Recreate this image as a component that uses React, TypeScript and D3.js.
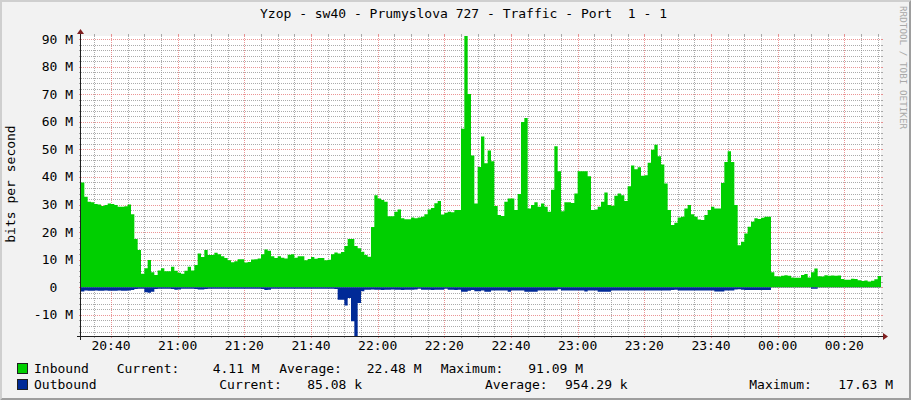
import React from 'react';
import * as d3 from 'd3';

// ---- data (1-minute samples, values in Mbit/s) ----
const inboundM = [
  38.0, 32.8, 31.0, 30.8, 30.2, 30.0, 29.5, 29.8, 30.4, 30.2,
  29.8, 29.2, 29.2, 29.4, 30.0, 26.5, 17.5, 13.5, 4.9, 6.9,
  9.9, 5.5, 4.5, 6.1, 6.9, 5.8, 5.8, 7.5, 6.0, 5.3,
  4.9, 6.0, 7.5, 6.1, 8.1, 12.3, 11.0, 13.5, 11.7, 11.7,
  12.5, 12.0, 11.3, 10.6, 9.8, 9.1, 9.5, 10.2, 10.2, 9.0,
  9.2, 10.1, 10.2, 10.5, 12.0, 13.7, 13.3, 11.3, 10.6, 11.3,
  10.7, 10.5, 11.8, 12.0, 10.7, 11.3, 11.3, 9.8, 10.3, 11.0,
  10.4, 10.6, 10.6, 9.8, 10.0, 12.0, 12.6, 12.3, 12.8, 15.0,
  17.5, 17.5, 15.0, 14.2, 12.9, 11.7, 11.1, 21.9, 33.4, 32.2,
  31.7, 31.0, 25.8, 25.8, 27.4, 28.2, 25.0, 24.7, 24.7, 25.3,
  25.0, 25.3, 25.6, 26.5, 28.2, 28.8, 30.5, 31.3, 26.4, 27.0,
  27.4, 27.2, 28.0, 28.0, 57.5, 91.09, 70.1, 47.8, 30.4, 43.6,
  54.7, 45.0, 49.6, 45.7, 29.5, 26.2, 25.9, 31.0, 32.2, 32.2,
  28.0, 33.8, 59.9, 61.4, 28.6, 29.8, 30.8, 29.2, 30.4, 29.2,
  27.4, 35.4, 51.1, 42.1, 27.6, 30.8, 30.8, 30.6, 34.0, 42.1,
  42.1, 42.1, 40.3, 28.0, 28.2, 29.2, 31.0, 34.4, 29.8, 29.6,
  33.2, 34.0, 33.4, 31.3, 36.6, 44.2, 42.8, 43.5, 40.4, 40.6,
  45.2, 49.9, 51.7, 47.5, 44.5, 37.6, 28.0, 22.6, 23.4, 25.3,
  25.6, 28.6, 29.8, 26.5, 25.6, 24.6, 24.4, 26.2, 28.0, 29.2,
  28.6, 28.6, 37.8, 45.4, 49.3, 45.4, 29.8, 15.3, 16.5, 19.5,
  22.0, 23.8, 25.0, 24.8, 25.2, 25.6, 25.6, 5.5, 4.0, 3.9,
  4.2, 4.4, 4.2, 3.6, 3.5, 3.5, 4.5, 4.8, 3.6, 5.5,
  6.8, 4.0, 3.9, 4.4, 4.2, 4.3, 4.2, 4.3, 3.0, 2.8,
  2.8, 3.1, 3.0, 2.6, 2.3, 2.5, 2.1, 2.4, 2.9, 4.11,
];

const outboundM = [
  1.5, 1.1, 1.2, 1.2, 1.1, 1.2, 1.2, 1.1, 1.2, 1.2,
  1.2, 1.1, 1.2, 1.2, 1.1, 1.0, 0.6, 0.5, 0.5, 1.8,
  2.0, 1.6, 0.6, 0.5, 0.5, 0.5, 0.5, 0.6, 0.9, 0.8,
  0.5, 0.5, 0.5, 0.5, 0.6, 0.8, 0.8, 0.6, 0.5, 0.5,
  0.5, 0.5, 0.5, 0.5, 0.5, 0.5, 0.5, 0.5, 0.5, 0.5,
  0.5, 0.5, 0.5, 0.5, 0.6, 1.0, 0.9, 0.5, 0.5, 0.5,
  0.5, 0.5, 0.5, 0.5, 0.5, 0.5, 0.5, 0.5, 0.5, 0.5,
  0.5, 0.5, 0.5, 0.5, 0.5, 0.5, 0.6, 4.5, 4.5, 6.6,
  3.9, 12.3, 17.63, 5.7, 1.4, 0.9, 0.9, 0.8, 0.9, 0.9,
  1.0, 0.9, 0.9, 0.8, 0.9, 0.9, 1.0, 0.9, 0.9, 0.9,
  0.8, 0.5, 0.9, 0.9, 0.9, 1.0, 0.9, 0.9, 0.9, 0.5,
  0.9, 0.9, 1.0, 0.9, 1.6, 1.6, 1.2, 1.0, 1.4, 1.4,
  1.1, 1.6, 1.6, 1.1, 1.1, 1.1, 1.1, 1.1, 1.6, 1.1,
  1.1, 1.1, 1.1, 1.6, 1.6, 1.6, 1.6, 1.1, 1.1, 1.1,
  1.1, 1.1, 1.1, 0.7, 1.1, 1.1, 1.1, 1.1, 1.1, 1.1,
  1.1, 1.5, 1.1, 1.1, 1.1, 1.6, 1.6, 1.6, 1.6, 1.1,
  1.1, 1.1, 1.1, 1.1, 1.1, 1.1, 1.1, 1.1, 1.1, 1.1,
  1.1, 1.1, 1.1, 1.1, 1.1, 1.1, 1.1, 1.0, 0.9, 1.1,
  1.1, 1.1, 1.1, 1.1, 1.1, 1.1, 1.1, 1.1, 1.1, 1.1,
  1.5, 1.5, 1.5, 1.1, 1.1, 1.1, 0.8, 0.7, 0.9, 1.0,
  1.0, 1.0, 1.0, 1.0, 1.0, 1.0, 1.0, 0.08, 0.08, 0.08,
  0.08, 0.08, 0.08, 0.08, 0.08, 0.08, 0.08, 0.08, 0.08, 0.5,
  0.5, 0.08, 0.08, 0.08, 0.08, 0.08, 0.08, 0.08, 0.08, 0.08,
  0.08, 0.08, 0.08, 0.08, 0.08, 0.08, 0.08, 0.08, 0.08, 0.085,
];

const startTime = new Date(2024, 0, 1, 20, 31, 0);
const yDomain = [-17.63, 91.09];
const yTickValues = [-10, 0, 10, 20, 30, 40, 50, 60, 70, 80, 90];
const yTickLabels = ['-10 M', '0  ', '10 M', '20 M', '30 M', '40 M', '50 M', '60 M', '70 M', '80 M', '90 M'];

const titleText = 'Yzop - sw40 - Prumyslova 727 - Traffic - Port  1 - 1';
const yAxisTitle = 'bits per second';
const watermark = 'RRDTOOL / TOBI OETIKER';
const seriesNames = ['Inbound', 'Outbound'];
const seriesColors = ['#00CF00', '#002A97'];
const statLabels = ['Current:', 'Average:', 'Maximum:'];
const inboundStats = ['4.11 M', '22.48 M', '91.09 M'];
const outboundStats = ['85.08 k', '954.29 k', '17.63 M'];

const FONT = '"DejaVu Sans Mono", monospace';

export default function App() {
  const W = 911, H = 400;
  const X0 = 81, X1 = 881, YT = 36, YB = 336;
  const n = inboundM.length;
  const end = d3.timeMinute.offset(startTime, n);
  const x = d3.scaleTime().domain([startTime, end]).range([X0, X1]);
  const y = d3.scaleLinear().domain(yDomain).range([YB, YT]);
  const snap = (v: number) => Math.round(v) + 0.5;

  const toPts = (vals: number[], sign: number) => {
    const arr = vals.map((v, i) => ({ t: d3.timeMinute.offset(startTime, i), v: sign * v }));
    arr.push({ t: end, v: sign * vals[n - 1] });
    return arr;
  };
  const area = d3.area<{ t: Date; v: number }>()
    .x(d => x(d.t))
    .y0(y(0))
    .y1(d => y(d.v))
    .curve(d3.curveStepAfter);

  const minorT = x.ticks(d3.timeMinute.every(5)!).filter(t => t.getMinutes() % 20 !== 0);
  const majorT = x.ticks(d3.timeMinute.every(20)!);
  const fmt = d3.timeFormat('%H:%M');
  const minorY = d3.range(-16, 92, 2).filter(v => v % 10 !== 0);

  const gridMinor = 'rgba(143,143,143,0.75)';
  const gridMajor = 'rgba(222,79,79,0.6)';
  const axisCol = '#1F1F1F';
  const arrowCol = '#801F1F';

  const statX = [[116.7, 279.3, 440.7], [219.3, 485, 749.3]];
  const valX = [[212.7, 366.7, 528.3], [307.3, 565, 838.3]];
  const rowY = [373, 389];
  const stats = [inboundStats, outboundStats];

  return (
    <svg width={W} height={H} style={{ position: 'absolute', left: 0, top: 0 }} fontFamily={FONT}>
      <rect x={0} y={0} width={W} height={H} fill="#F2F2F2" />
      <polygon points={`0,${H} 2,${H - 2} 2,2 ${W - 2},2 ${W},0 0,0`} fill="#CFCFCF" />
      <polygon points={`2,${H - 2} ${W - 2},${H - 2} ${W - 2},2 ${W},0 ${W},${H} 0,${H}`} fill="#9E9E9E" />
      <rect x={X0} y={YT} width={X1 - X0} height={YB - YT} fill="#FFFFFF" />

      {/* horizontal grid */}
      {minorY.map(v => (
        <g key={'hy' + v}>
          <line x1={X0} x2={X1} y1={snap(y(v))} y2={snap(y(v))} stroke={gridMinor} strokeDasharray="1,1" />
          <line x1={X0 - 2} x2={X0} y1={snap(y(v))} y2={snap(y(v))} stroke={gridMinor} />
          <line x1={X1} x2={X1 + 2} y1={snap(y(v))} y2={snap(y(v))} stroke={gridMinor} />
        </g>
      ))}
      {minorT.map(t => (
        <g key={'vt' + t.getTime()}>
          <line x1={snap(x(t))} x2={snap(x(t))} y1={YT} y2={YB} stroke={gridMinor} strokeDasharray="1,1" />
          <line x1={snap(x(t))} x2={snap(x(t))} y1={YB} y2={YB + 2} stroke={gridMinor} />
          <line x1={snap(x(t))} x2={snap(x(t))} y1={YT - 2} y2={YT} stroke={gridMinor} />
        </g>
      ))}
      {yTickValues.map(v => (
        <g key={'my' + v}>
          <line x1={X0} x2={X1} y1={snap(y(v))} y2={snap(y(v))} stroke={gridMajor} strokeDasharray="1,1" />
          <line x1={X0 - 2} x2={X0} y1={snap(y(v))} y2={snap(y(v))} stroke={gridMajor} />
          <line x1={X1} x2={X1 + 2} y1={snap(y(v))} y2={snap(y(v))} stroke={gridMajor} />
        </g>
      ))}
      {majorT.map(t => (
        <g key={'mt' + t.getTime()}>
          <line x1={snap(x(t))} x2={snap(x(t))} y1={YT} y2={YB} stroke={gridMajor} strokeDasharray="1,1" />
          <line x1={snap(x(t))} x2={snap(x(t))} y1={YB} y2={YB + 2} stroke={gridMajor} />
          <line x1={snap(x(t))} x2={snap(x(t))} y1={YT - 2} y2={YT} stroke={gridMajor} />
        </g>
      ))}

      {/* data */}
      <path d={area(toPts(inboundM, 1)) || ''} fill={seriesColors[0]} />
      <path d={area(toPts(outboundM, -1)) || ''} fill={seriesColors[1]} />

      {/* axes */}
      <line x1={X0 - 4} x2={X1 + 4} y1={YB + 0.5} y2={YB + 0.5} stroke={axisCol} />
      <line x1={X0 - 0.5} x2={X0 - 0.5} y1={YB + 4} y2={YT - 4} stroke={axisCol} />
      <polygon points={`${X1 + 2},${YB - 3} ${X1 + 2},${YB + 4} ${X1 + 7},${YB + 0.5}`} fill={arrowCol} />
      <polygon points={`${X0 - 4},${YT - 2} ${X0 + 3},${YT - 2} ${X0 - 0.5},${YT - 7}`} fill={arrowCol} />

      {/* y labels */}
      {yTickValues.map((v, i) => (
        <text key={'yl' + v} x={73} y={y(v) + 4.5} fontSize={13} textAnchor="end" fill="#000" style={{ whiteSpace: 'pre' }}>
          {yTickLabels[i]}
        </text>
      ))}
      {/* x labels */}
      {majorT.map(t => (
        <text key={'xl' + t.getTime()} x={x(t)} y={350} fontSize={13} textAnchor="middle" fill="#000">
          {fmt(t)}
        </text>
      ))}

      <text x={260} y={18} fontSize={13} fill="#000" style={{ whiteSpace: 'pre' }}>{titleText}</text>
      <text transform="translate(15,184) rotate(-90)" fontSize={13} textAnchor="middle" fill="#000">{yAxisTitle}</text>
      <text transform="translate(900,6) rotate(90)" fontSize={9.3} fill="#A8A8A8">{watermark}</text>

      {/* legend */}
      {seriesNames.map((s, r) => (
        <g key={'lg' + s}>
          <rect x={17.5} y={rowY[r] - 9.5} width={10} height={10} fill={seriesColors[r]} stroke={axisCol} />
          <text x={34} y={rowY[r]} fontSize={13} fill="#000">{s}</text>
          {statLabels.map((l, k) => (
            <g key={l}>
              <text x={statX[r][k]} y={rowY[r]} fontSize={13} fill="#000">{l}</text>
              <text x={valX[r][k]} y={rowY[r]} fontSize={13} fill="#000">{stats[r][k]}</text>
            </g>
          ))}
        </g>
      ))}
    </svg>
  );
}
